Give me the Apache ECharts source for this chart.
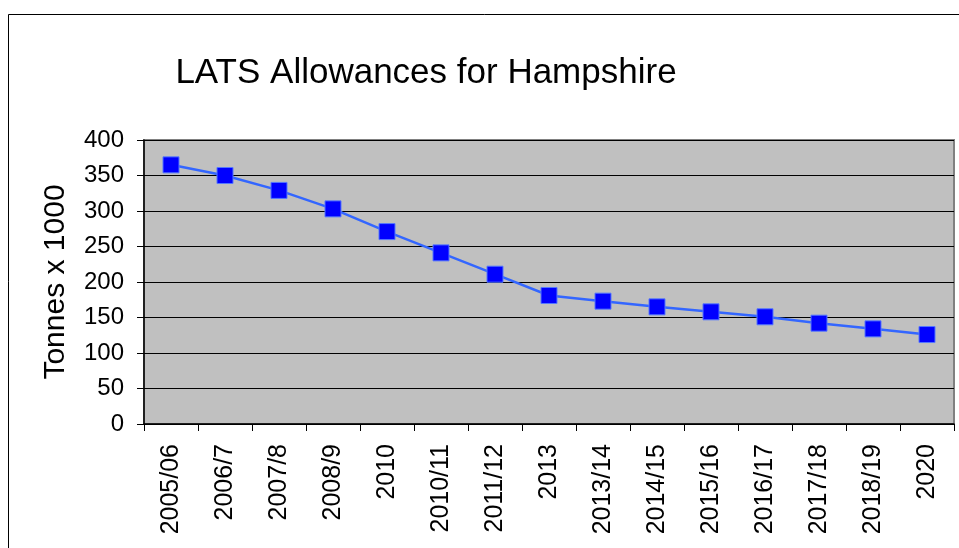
<!DOCTYPE html>
<html>
<head>
<meta charset="utf-8">
<script src="https://cdn.jsdelivr.net/npm/echarts@6/dist/echarts.min.js"></script>
<style>
  html, body { margin: 0; padding: 0; background: #fff; }
  #chart { width: 959px; height: 548px; }
</style>
</head>
<body>
<div id="chart"></div>
<script>
// Landfill allowance years and allowances (thousand tonnes)
const years = ['2005/06', '2006/7', '2007/8', '2008/9', '2010', '2010/11', '2011/12',
  '2013', '2013/14', '2014/15', '2015/16', '2016/17', '2017/18', '2018/19', '2020'];
const allowances = [365, 350, 329, 303, 271, 241, 211, 181, 173, 165, 158, 151, 142, 134, 126];
const yTicks = { min: 0, max: 400, interval: 50 };

const FONT = '"Liberation Sans", Arial, sans-serif';
const chart = echarts.init(document.getElementById('chart'));

chart.setOption({
  animation: false,
  backgroundColor: '#ffffff',
  title: {
    text: 'LATS Allowances for Hampshire',
    left: 421,
    top: 51,
    textAlign: 'center',
    textStyle: { fontFamily: FONT, fontSize: 35, fontWeight: 'normal', color: '#000' }
  },
  graphic: [{
    type: 'rect',
    shape: { x: 8.5, y: 14.5, width: 1000, height: 600 },
    style: { fill: 'none', stroke: '#000', lineWidth: 1 },
    silent: true
  }],
  grid: {
    left: 144, top: 140, right: 5, bottom: 124,
    show: true,
    backgroundColor: '#c0c0c0',
    borderColor: '#808080',
    borderWidth: 2
  },
  xAxis: {
    type: 'category',
    data: years,
    boundaryGap: true,
    axisLine: { lineStyle: { color: '#000', width: 1.5 } },
    axisTick: { show: true, length: 7, lineStyle: { color: '#000' } },
    axisLabel: {
      rotate: 90, margin: 20, interval: 0,
      fontFamily: FONT, fontSize: 25, color: '#000'
    },
    splitLine: { show: false }
  },
  yAxis: {
    type: 'value',
    min: yTicks.min, max: yTicks.max, interval: yTicks.interval,
    name: 'Tonnes x 1000',
    nameLocation: 'middle',
    nameGap: 73,
    nameTextStyle: { fontFamily: FONT, fontSize: 30, color: '#000' },
    axisLine: { show: true, lineStyle: { color: '#000', width: 1.5 } },
    axisTick: { show: true, length: 7, lineStyle: { color: '#000' } },
    axisLabel: { margin: 20, fontFamily: FONT, fontSize: 24, color: '#000' },
    splitLine: { show: true, lineStyle: { color: '#000', width: 1 } }
  },
  series: [{
    type: 'line',
    data: allowances,
    symbol: 'rect',
    symbolSize: 16,
    lineStyle: { color: '#3366ff', width: 2.5 },
    itemStyle: { color: '#0000ff', borderColor: '#5577ff', borderWidth: 1 },
    z: 3
  }]
});
</script>
</body>
</html>
